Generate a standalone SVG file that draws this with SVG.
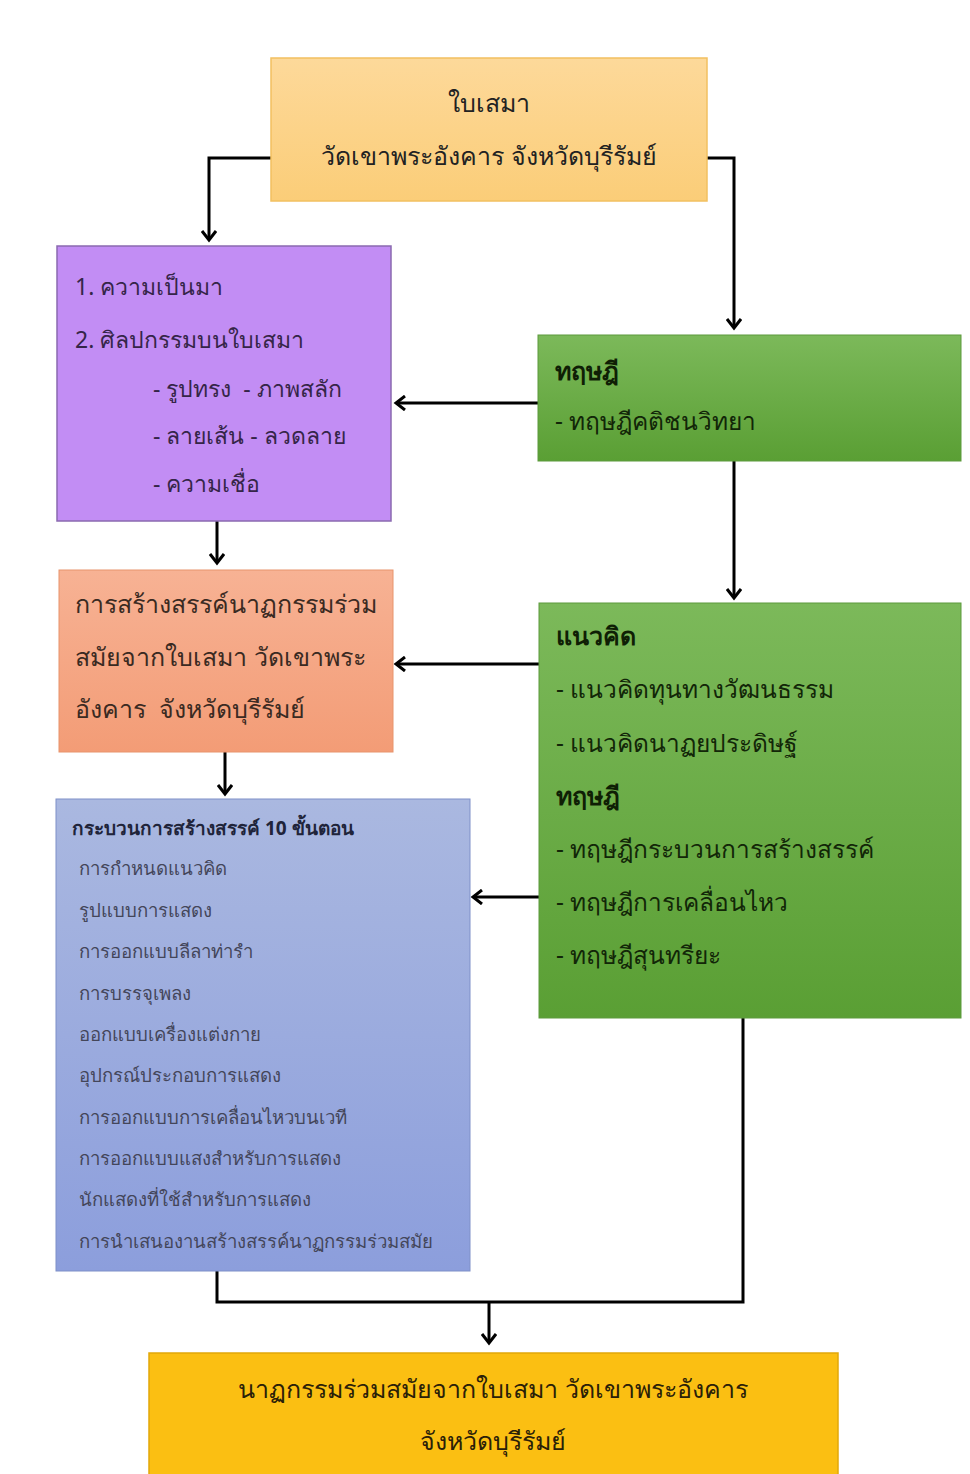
<svg xmlns="http://www.w3.org/2000/svg" width="970" height="1474" viewBox="0 0 970 1474">
<defs>
<linearGradient id="gTop" x1="0" y1="0" x2="0" y2="1"><stop offset="0" stop-color="#fdd99a"/><stop offset="1" stop-color="#fbcd78"/></linearGradient>
<linearGradient id="gGreen" x1="0" y1="0" x2="0" y2="1"><stop offset="0" stop-color="#7cb95a"/><stop offset="1" stop-color="#5a9f34"/></linearGradient>
<linearGradient id="gSalmon" x1="0" y1="0" x2="0" y2="1"><stop offset="0" stop-color="#f7b294"/><stop offset="1" stop-color="#f39c76"/></linearGradient>
<linearGradient id="gBlue" x1="0" y1="0" x2="0" y2="1"><stop offset="0" stop-color="#aab8e0"/><stop offset="1" stop-color="#8c9edc"/></linearGradient>
<marker id="arr" markerWidth="16" markerHeight="16" refX="13" refY="8" orient="auto" markerUnits="userSpaceOnUse">
<polyline points="4,1 13,8 4,15" fill="none" stroke="#000" stroke-width="3"/>
</marker>
</defs>
<style>
text{font-family:"Noto Sans","DejaVu Sans",sans-serif;white-space:pre;}
.t26{font-size:25px;fill:#222;}
.t24{font-size:23px;fill:#352548;}
.g{font-size:24.5px;fill:#122608;}
.gb{font-size:25px;fill:#0f1f05;font-weight:bold;}
.b{font-size:18.6px;fill:#44465a;}
.bb{font-size:19px;fill:#20243a;font-weight:bold;}
.c{text-anchor:middle;}
.ln{fill:none;stroke:#000;stroke-width:3;}
</style>
<rect width="970" height="1474" fill="#fff"/>
<g id="connectors">
<polyline class="ln" points="271,158 209,158 209,240" marker-end="url(#arr)"/>
<polyline class="ln" points="707,158 734,158 734,328" marker-end="url(#arr)"/>
<line class="ln" x1="538" y1="403" x2="396" y2="403" marker-end="url(#arr)"/>
<line class="ln" x1="217" y1="521" x2="217" y2="563" marker-end="url(#arr)"/>
<line class="ln" x1="734" y1="461" x2="734" y2="598" marker-end="url(#arr)"/>
<line class="ln" x1="539" y1="664" x2="396" y2="664" marker-end="url(#arr)"/>
<line class="ln" x1="225" y1="752" x2="225" y2="794" marker-end="url(#arr)"/>
<line class="ln" x1="539" y1="897" x2="473" y2="897" marker-end="url(#arr)"/>
<polyline class="ln" points="217,1271 217,1302 743,1302 743,1018"/>
<line class="ln" x1="489" y1="1302" x2="489" y2="1343" marker-end="url(#arr)"/>
</g>
<g id="n-top">
<rect x="271" y="58" width="436" height="143" fill="url(#gTop)" stroke="#f2c060" stroke-width="1.5"/>
<text class="t26 c" x="489" y="112">ใบเสมา</text>
<text class="t26 c" x="489" y="165">วัดเขาพระอังคาร จังหวัดบุรีรัมย์</text>
</g>
<g id="n-purple">
<rect x="57" y="246" width="334" height="275" fill="#c28df4" stroke="#8a6ab0" stroke-width="1.5"/>
<text class="t24" x="75" y="295">1. ความเป็นมา</text>
<text class="t24" x="75" y="348">2. ศิลปกรรมบนใบเสมา</text>
<text class="t24" x="153" y="397">- รูปทรง  - ภาพสลัก</text>
<text class="t24" x="153" y="444">- ลายเส้น - ลวดลาย</text>
<text class="t24" x="153" y="492">- ความเชื่อ</text>
</g>
<g id="n-green1">
<rect x="538" y="335" width="423" height="126" fill="url(#gGreen)" stroke="#5d9a3c" stroke-width="1"/>
<text class="gb" x="555" y="380">ทฤษฎี</text>
<text class="g" x="555" y="430">- ทฤษฎีคติชนวิทยา</text>
</g>
<g id="n-salmon">
<rect x="59" y="570" width="334" height="182" fill="url(#gSalmon)" stroke="#e8946c" stroke-width="1"/>
<text class="t26" x="75" y="613" style="fill:#3a2a22">การสร้างสรรค์นาฏกรรมร่วม</text>
<text class="t26" x="75" y="666" style="fill:#3a2a22">สมัยจากใบเสมา วัดเขาพระ</text>
<text class="t26" x="75" y="718" style="fill:#3a2a22">อังคาร  จังหวัดบุรีรัมย์</text>
</g>
<g id="n-green2">
<rect x="539" y="603" width="422" height="415" fill="url(#gGreen)" stroke="#5d9a3c" stroke-width="1"/>
<text class="gb" x="556" y="645">แนวคิด</text>
<text class="g" x="556" y="698">- แนวคิดทุนทางวัฒนธรรม</text>
<text class="g" x="556" y="752">- แนวคิดนาฏยประดิษฐ์</text>
<text class="gb" x="556" y="805">ทฤษฎี</text>
<text class="g" x="556" y="858">- ทฤษฎีกระบวนการสร้างสรรค์</text>
<text class="g" x="556" y="911">- ทฤษฎีการเคลื่อนไหว</text>
<text class="g" x="556" y="964">- ทฤษฎีสุนทรียะ</text>
</g>
<g id="n-blue">
<rect x="56" y="799" width="414" height="472" fill="url(#gBlue)" stroke="#7f90c8" stroke-width="1"/>
<text class="bb" x="72" y="835">กระบวนการสร้างสรรค์ 10 ขั้นตอน</text>
<text class="b" x="79" y="875">การกำหนดแนวคิด</text>
<text class="b" x="79" y="917">รูปแบบการแสดง</text>
<text class="b" x="79" y="958">การออกแบบลีลาท่ารำ</text>
<text class="b" x="79" y="1000">การบรรจุเพลง</text>
<text class="b" x="79" y="1041">ออกแบบเครื่องแต่งกาย</text>
<text class="b" x="79" y="1082">อุปกรณ์ประกอบการแสดง</text>
<text class="b" x="79" y="1124">การออกแบบการเคลื่อนไหวบนเวที</text>
<text class="b" x="79" y="1165">การออกแบบแสงสำหรับการแสดง</text>
<text class="b" x="79" y="1206">นักแสดงที่ใช้สำหรับการแสดง</text>
<text class="b" x="79" y="1248">การนำเสนองานสร้างสรรค์นาฏกรรมร่วมสมัย</text>
</g>
<g id="n-bottom">
<rect x="149" y="1353" width="689" height="125" fill="#fbbf12" stroke="#e2a80a" stroke-width="1.5"/>
<text class="t26 c" x="493" y="1398" style="fill:#2a2008">นาฏกรรมร่วมสมัยจากใบเสมา วัดเขาพระอังคาร</text>
<text class="t26 c" x="493" y="1450" style="fill:#2a2008">จังหวัดบุรีรัมย์</text>
</g>
</svg>
